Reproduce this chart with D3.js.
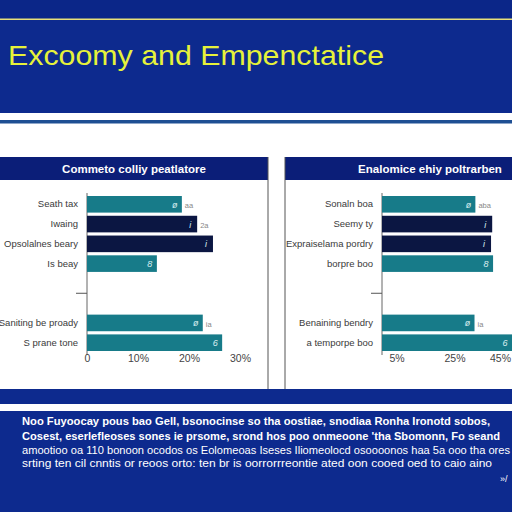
<!DOCTYPE html>
<html>
<head>
<meta charset="utf-8">
<script src="https://cdn.jsdelivr.net/npm/d3@7"></script>
<style>
  body { margin: 0; background: #0d2a8e; }
  svg { display: block; }
  .cat text { font-family: "Liberation Sans", sans-serif; font-size: 9.5px; fill: #3a3a3a; }
  .xax text { font-family: "Liberation Sans", sans-serif; font-size: 10.5px; fill: #444; }
  .foot { font-family: "Liberation Sans", sans-serif; fill: #fff; }
</style>
</head>
<body>
<div id="chart"></div>
<script>
// Data
const title = "Excoomy and Empenctatice";
const leftTitle = "Commeto colliy peatlatore";
const rightTitle = "Enalomice ehiy poltrarben";
const rows = ["r1", "r2", "r3", "r4", "g1", "g2", "r5", "r6"];
const leftLabels = ["Seath tax", "Iwaing", "Opsolalnes beary", "Is beay", "", "", "Saniting be proady", "S prane tone"];
const rightLabels = ["Sonaln boa", "Seemy ty", "Expraiselama pordry", "borpre boo", "", "", "Benaining bendry", "a temporpe boo"];
const barRows = ["r1", "r2", "r3", "r4", "r5", "r6"];
const barColors = ["teal", "navy", "navy", "teal", "teal", "teal"];
const leftValues = [18.6, 21.6, 24.7, 13.7, 22.7, 26.5];
const rightValues = [32.2, 38.0, 37.6, 38.3, 31.9, 46.0];
const leftTicks = [0, 10, 20, 30];
const leftTickLabels = ["0", "10%", "20%", "30%"];
const rightTicks = [5, 25, 45];
const rightTickLabels = ["5%", "25%", "45%"];
const insideMarks = ["ø", "i", "i", "8", "ø", "6"];
const leftSide = ["aa", "2a", "", "", "ia", ""];
const rightSide = ["aba", "", "", "", "ia", ""];
const footLines = [
  "Noo Fuyoocay pous bao Gell, bsonocinse so tha oostiae, snodiaa Ronha Ironotd sobos,",
  "Cosest, eserlefleoses sones ie prsome, srond hos poo onmeoone 'tha Sbomonn, Fo seand",
  "amootioo oa 110 bonoon ocodos os Eolomeoas Iseses Iliomeolocd osoooonos haa 5a ooo tha ores",
  "srting ten cil cnntis or reoos orto: ten br is oorrorrreontie ated oon cooed oed to caio aino"
];

const W = 512, H = 512;
const colors = { teal: "#177b89", navy: "#0b1642" };

const svg = d3.select("#chart").append("svg")
  .attr("width", W).attr("height", H);

// Background bands
svg.append("rect").attr("width", W).attr("height", H).attr("fill", "#0d2a8e");
svg.append("rect").attr("y", 0).attr("width", W).attr("height", 19).attr("fill", "#0b2688");
svg.append("rect").attr("y", 18.5).attr("width", W).attr("height", 1.5).attr("fill", "#e8e07a");
svg.append("rect").attr("y", 113).attr("width", W).attr("height", 276).attr("fill", "#ffffff");
svg.append("rect").attr("y", 120).attr("width", W).attr("height", 3.5).attr("fill", "#1f4f93");
svg.append("rect").attr("y", 404).attr("width", W).attr("height", 7).attr("fill", "#ffffff");

svg.append("text")
  .attr("x", 8).attr("y", 65)
  .attr("font-family", "Liberation Sans, sans-serif")
  .attr("font-size", 28)
  .attr("textLength", 376)
  .attr("lengthAdjust", "spacingAndGlyphs")
  .attr("fill", "#e6f23a")
  .text(title);

function panel(x0, x1, axisX, labels, values, xScale, ticks, tickLabels, hTitle, titleX, side) {
  const g = svg.append("g");
  g.append("rect").attr("x", x0).attr("y", 157).attr("width", x1 - x0).attr("height", 23).attr("fill", "#0b1e78");
  g.append("text")
    .attr("x", titleX).attr("y", 173)
    .attr("text-anchor", "middle")
    .attr("font-family", "Liberation Sans, sans-serif")
    .attr("font-size", 11.5).attr("font-weight", "bold")
    .attr("fill", "#ffffff")
    .text(hTitle);

  const y = d3.scaleBand().domain(rows).range([196, 351]).paddingInner(0.16);

  const yAxis = d3.axisLeft(y).tickSize(0).tickPadding(9)
    .tickFormat((d, i) => labels[i]);
  g.append("g").attr("class", "cat")
    .attr("transform", "translate(" + axisX + ",0)")
    .call(yAxis)
    .call(s => s.select(".domain").attr("stroke", "#666").attr("d", "M0,193V355"));

  // small tick in gap
  const gapY = (y("g1") + y("g2") + y.bandwidth()) / 2;
  g.append("line")
    .attr("x1", axisX - 11).attr("x2", axisX)
    .attr("y1", gapY).attr("y2", gapY)
    .attr("stroke", "#555");

  g.append("g").selectAll("rect")
    .data(values)
    .join("rect")
    .attr("x", axisX)
    .attr("y", (d, i) => y(barRows[i]))
    .attr("width", d => xScale(d) - axisX)
    .attr("height", y.bandwidth())
    .attr("fill", (d, i) => colors[barColors[i]]);

  g.append("g").selectAll("text")
    .data(values)
    .join("text")
    .attr("x", d => Math.min(xScale(d), x1) - 7)
    .attr("y", (d, i) => y(barRows[i]) + y.bandwidth() / 2 + 3.5)
    .attr("text-anchor", "middle")
    .attr("font-family", "Liberation Sans, sans-serif")
    .attr("font-size", 9).attr("font-style", "italic")
    .attr("fill", "#d8eef0")
    .text((d, i) => insideMarks[i]);

  g.append("g").selectAll("text")
    .data(values)
    .join("text")
    .attr("x", d => xScale(d) + 3)
    .attr("y", (d, i) => y(barRows[i]) + y.bandwidth() / 2 + 4)
    .attr("font-family", "Liberation Sans, sans-serif")
    .attr("font-size", 7.5)
    .attr("fill", "#888")
    .text((d, i) => side[i]);

  const xAxis = d3.axisBottom(xScale).tickValues(ticks).tickSize(0).tickPadding(3)
    .tickFormat((d, i) => tickLabels[i]);
  g.append("g").attr("class", "xax")
    .attr("transform", "translate(0,352)")
    .call(xAxis)
    .call(s => s.select(".domain").remove())
    .call(s => s.selectAll(".tick text")
      .attr("text-anchor", function() {
        const t = this.parentNode.getAttribute("transform");
        const tx = +t.slice(10, t.indexOf(","));
        return tx > 495 ? "end" : "middle";
      })
      .attr("x", function() {
        const t = this.parentNode.getAttribute("transform");
        const tx = +t.slice(10, t.indexOf(","));
        return tx > 495 ? 511 - tx : 0;
      }));
}

const xLeft = d3.scaleLinear().domain([0, 30]).range([87, 240]);
const xRight = d3.scaleLinear().domain([0, 45]).range([382, 382 + 45 * 2.9]);

panel(0, 268, 87, leftLabels, leftValues, xLeft, leftTicks, leftTickLabels, leftTitle, 134, leftSide);
panel(285, 512, 382, rightLabels, rightValues, xRight, rightTicks, rightTickLabels, rightTitle, 430, rightSide);

// Panel borders
svg.append("line").attr("x1", 268).attr("x2", 268).attr("y1", 157).attr("y2", 389).attr("stroke", "#555").attr("stroke-width", 1);
svg.append("line").attr("x1", 285).attr("x2", 285).attr("y1", 157).attr("y2", 389).attr("stroke", "#555").attr("stroke-width", 1);

// Footer
const footSizes = [11, 11, 10, 10];
const footY = [425, 440, 454, 467];
const footLen = [468, 478, 488, 470];
svg.append("g").selectAll("text")
  .data(footLines)
  .join("text")
  .attr("class", "foot")
  .attr("x", 22)
  .attr("y", (d, i) => footY[i])
  .attr("font-size", (d, i) => footSizes[i])
  .attr("font-weight", (d, i) => i < 2 ? "bold" : "normal")
  .attr("textLength", (d, i) => footLen[i])
  .attr("lengthAdjust", "spacingAndGlyphs")
  .text(d => d);

svg.append("text").attr("class", "foot")
  .attr("x", 500).attr("y", 482).attr("font-size", 9).text("»/");
</script>
</body>
</html>
